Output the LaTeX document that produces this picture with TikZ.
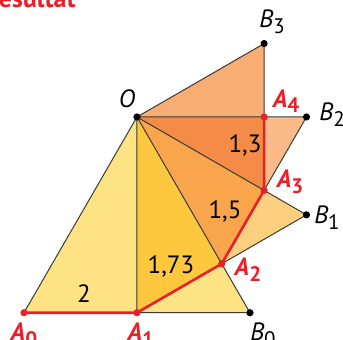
\documentclass[tikz,border=0pt]{standalone}
\usepackage{fontspec}
\setmainfont{PT Sans}
\definecolor{redA}{HTML}{E8202A}
\definecolor{edgegray}{HTML}{3A3A3A}
\definecolor{cT0}{HTML}{FEE384}
\definecolor{cT01}{HTML}{FDC73E}
\definecolor{cT1}{HTML}{FDD080}
\definecolor{cT12}{HTML}{F9A54B}
\definecolor{cT2}{HTML}{FABB88}
\definecolor{cT23}{HTML}{F48B47}
\definecolor{cT3}{HTML}{F8AE73}
\newcommand\ptlabel[2]{\itshape #1\raisebox{-0.45ex}{\upshape\fontsize{10.5}{11}\selectfont #2}}
\begin{document}
\begin{tikzpicture}[x=56.5pt,y=56.5pt,font=\fontsize{12.5}{14}\selectfont,
  edge/.style={draw=edgegray,line width=0.5pt,line join=round},
  redpath/.style={draw=redA,line width=1.3pt,line join=round},
  bdot/.style={fill=black},
  rdot/.style={fill=redA},
  alabel/.style={anchor=base,text=redA,font=\fontsize{12.5}{14}\selectfont\bfseries},
  blabel/.style={anchor=base,text=black},
  numlabel/.style={anchor=base,text=black}]
\useasboundingbox (-1.212,-1.973) rectangle (1.823,1.035);
\coordinate (O) at (0,0);
\coordinate (A0) at (-1,-1.7321);
\coordinate (A1) at (0,-1.7321);
\coordinate (B0) at (1,-1.7321);
\coordinate (B1) at (1.5,-0.8660);
\coordinate (A2) at (0.75,-1.2990);
\coordinate (B2) at (1.5,0);
\coordinate (A3) at (1.125,-0.6495);
\coordinate (B3) at (1.125,0.6495);
\coordinate (A4) at (1.125,0);
% fills
\fill[cT0] (O)--(A0)--(B0)--cycle;
\fill[cT01] (O)--(A1)--(A2)--cycle;
\fill[cT1] (A2)--(B1)--(A3)--cycle;
\fill[cT12] (O)--(A2)--(A3)--cycle;
\fill[cT2] (A3)--(B2)--(A4)--cycle;
\fill[cT23] (O)--(A3)--(A4)--cycle;
\fill[cT3] (O)--(A4)--(B3)--cycle;
% edges
\draw[edge] (A0)--(O)--(B0) (O)--(A1) (O)--(B1) (O)--(B2) (O)--(B3)
  (A1)--(B0) (A2)--(B1) (A3)--(B2) (A4)--(B3);
\draw[redpath] (A0)--(A1)--(A2)--(A3)--(A4);
% dots
\foreach \p in {O,B0,B1,B2,B3} \fill[bdot] (\p) circle (1.8pt);
\foreach \p in {A0,A1,A2,A3,A4} \fill[rdot] (\p) circle (1.8pt);
% labels
\node[blabel] (lO) at (-0.088,0.080) {\itshape O};
\node[alabel] (lA0) at (-1.0,-1.982) {\ptlabel{A}{0}};
\node[alabel] (lA1) at (0.035,-1.982) {\ptlabel{A}{1}};
\node[alabel] (lA2) at (0.982,-1.407) {\ptlabel{A}{2}};
\node[alabel] (lA3) at (1.354,-0.628) {\ptlabel{A}{3}};
\node[alabel] (lA4) at (1.319,0.088) {\ptlabel{A}{4}};
\node[blabel] (lB0) at (1.115,-1.982) {\ptlabel{B}{0}};
\node[blabel] (lB1) at (1.681,-0.947) {\ptlabel{B}{1}};
\node[blabel] (lB2) at (1.726,-0.035) {\ptlabel{B}{2}};
\node[blabel] (lB3) at (1.195,0.788) {\ptlabel{B}{3}};
\node[numlabel] (n2) at (-0.469,-1.646) {2};
\node[numlabel] (n173) at (0.301,-1.389) {1,73};
\node[numlabel] (n15) at (0.779,-0.894) {1,5};
\node[numlabel] (n13) at (0.956,-0.310) {1,3};
\node[anchor=base west,text=redA,font=\fontsize{13}{15}\selectfont\bfseries,inner sep=0pt] (title) at (-1.354,0.973) {Resultat};
\end{tikzpicture}
\end{document}
